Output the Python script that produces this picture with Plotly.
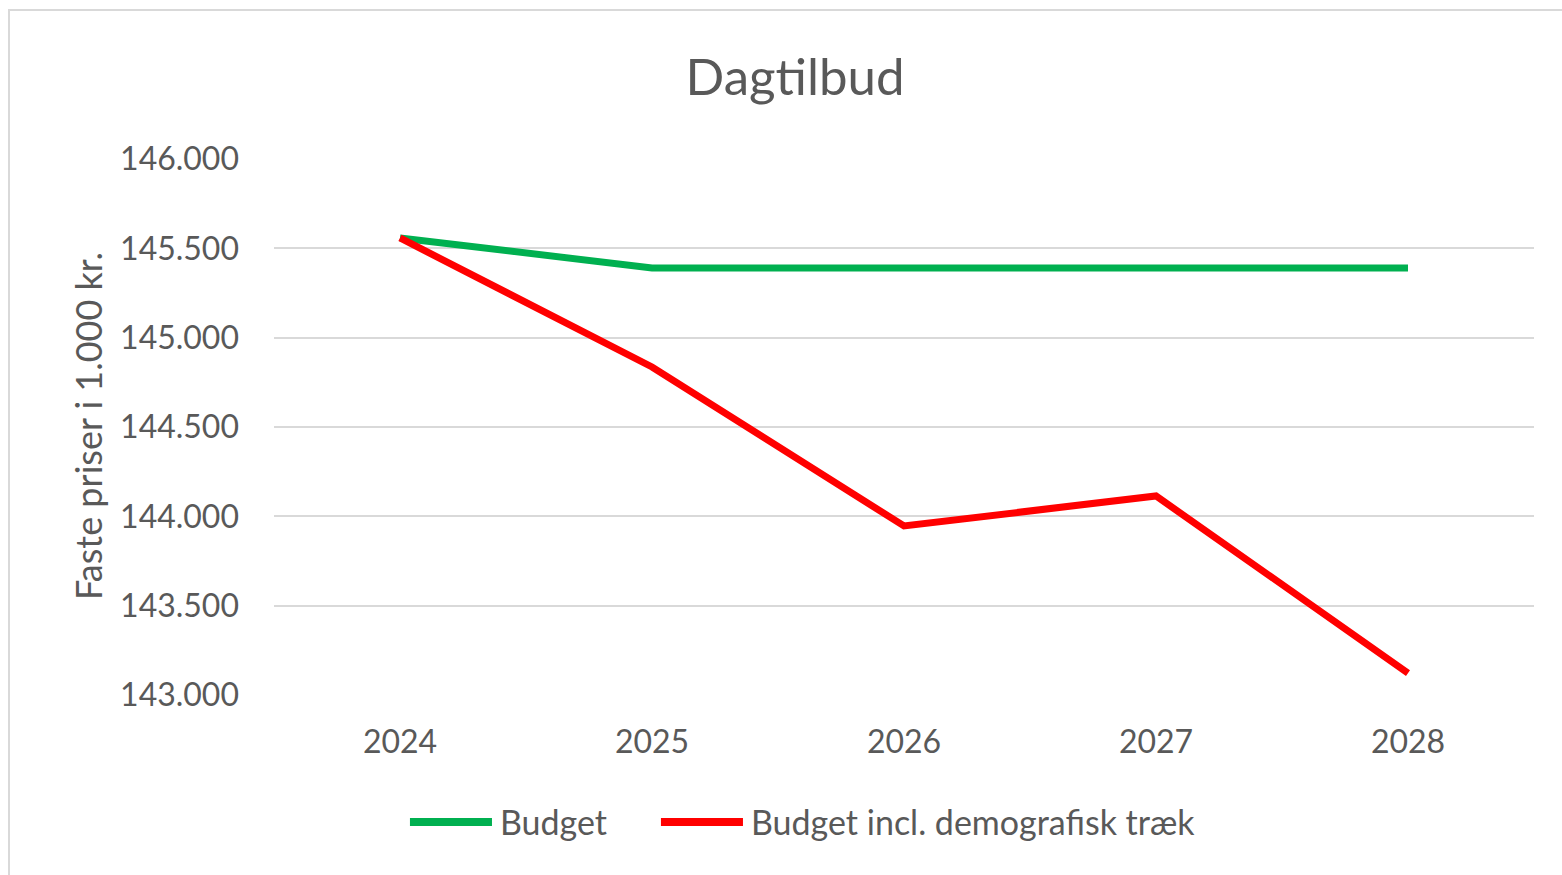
import plotly.graph_objects as go

years = ["2024", "2025", "2026", "2027", "2028"]
budget = [145558, 145390, 145390, 145390, 145390]
budget_demo = [145558, 144836, 143946, 144114, 143123]
y_ticks = [143000, 143500, 144000, 144500, 145000, 145500, 146000]
series_names = ["Budget", "Budget incl. demografisk træk"]
series_colors = ["#00b050", "#ff0000"]

FONT = "Lato, 'Open Sans', sans-serif"
GREY = "#595959"

fig = go.Figure()
for name, vals, col in zip(series_names, [budget, budget_demo], series_colors):
    fig.add_trace(go.Scatter(x=years, y=vals, mode="lines", name=name,
                             line=dict(color=col, width=7), showlegend=False))

# manual legend (long line samples like the original)
legend_y = -0.2369
legend_items = [(0.1079, 0.1730, 0.1778), (0.3071, 0.3722, 0.3770)]
shapes = [dict(type="rect", xref="paper", yref="paper",
               x0=-0.2103, x1=1.1, y0=-0.4, y1=1.278,
               line=dict(color="#d9d9d9", width=2), layer="below")]
annotations = [dict(text="Faste priser i 1.000 kr.", xref="paper", yref="paper",
                    x=-0.1476, y=0.502, xanchor="center", yanchor="middle",
                    textangle=-90, showarrow=False,
                    font=dict(size=36, color=GREY, family=FONT))]
for (lx0, lx1, tx), name, col in zip(legend_items, series_names, series_colors):
    shapes.append(dict(type="line", xref="paper", yref="paper", x0=lx0, x1=lx1,
                       y0=legend_y, y1=legend_y, line=dict(color=col, width=8)))
    annotations.append(dict(text=name, xref="paper", yref="paper", x=tx, y=legend_y,
                            xanchor="left", yanchor="middle", showarrow=False,
                            font=dict(size=34, color=GREY, family=FONT)))

fig.update_layout(
    width=1562, height=875,
    margin=dict(l=274, r=28, t=159, b=180, autoexpand=False),
    paper_bgcolor="white", plot_bgcolor="white",
    separators=",.",
    font=dict(family=FONT, color=GREY, size=22),
    title=dict(text="Dagtilbud", x=0.509, xanchor="center", y=0.912, yanchor="middle",
               font=dict(size=51, color=GREY, family=FONT)),
    showlegend=False,
    xaxis=dict(type="category", range=[-0.5, 4.5], showgrid=False, zeroline=False,
               showline=False, ticks="", tickfont=dict(size=32, color=GREY),
               ticklabelstandoff=25),
    yaxis=dict(range=[143000, 146000], tickvals=y_ticks, tickformat=",.0f",
               showgrid=True, gridcolor="#d9d9d9", gridwidth=2, zeroline=False,
               showline=False, ticks="", tickfont=dict(size=32, color=GREY),
               ticklabelstandoff=34),
    annotations=annotations,
    shapes=shapes,
)

fig.write_html("out.html", config={"displayModeBar": False},
               post_script="document.body.style.margin='0';document.body.style.overflow='hidden';")
